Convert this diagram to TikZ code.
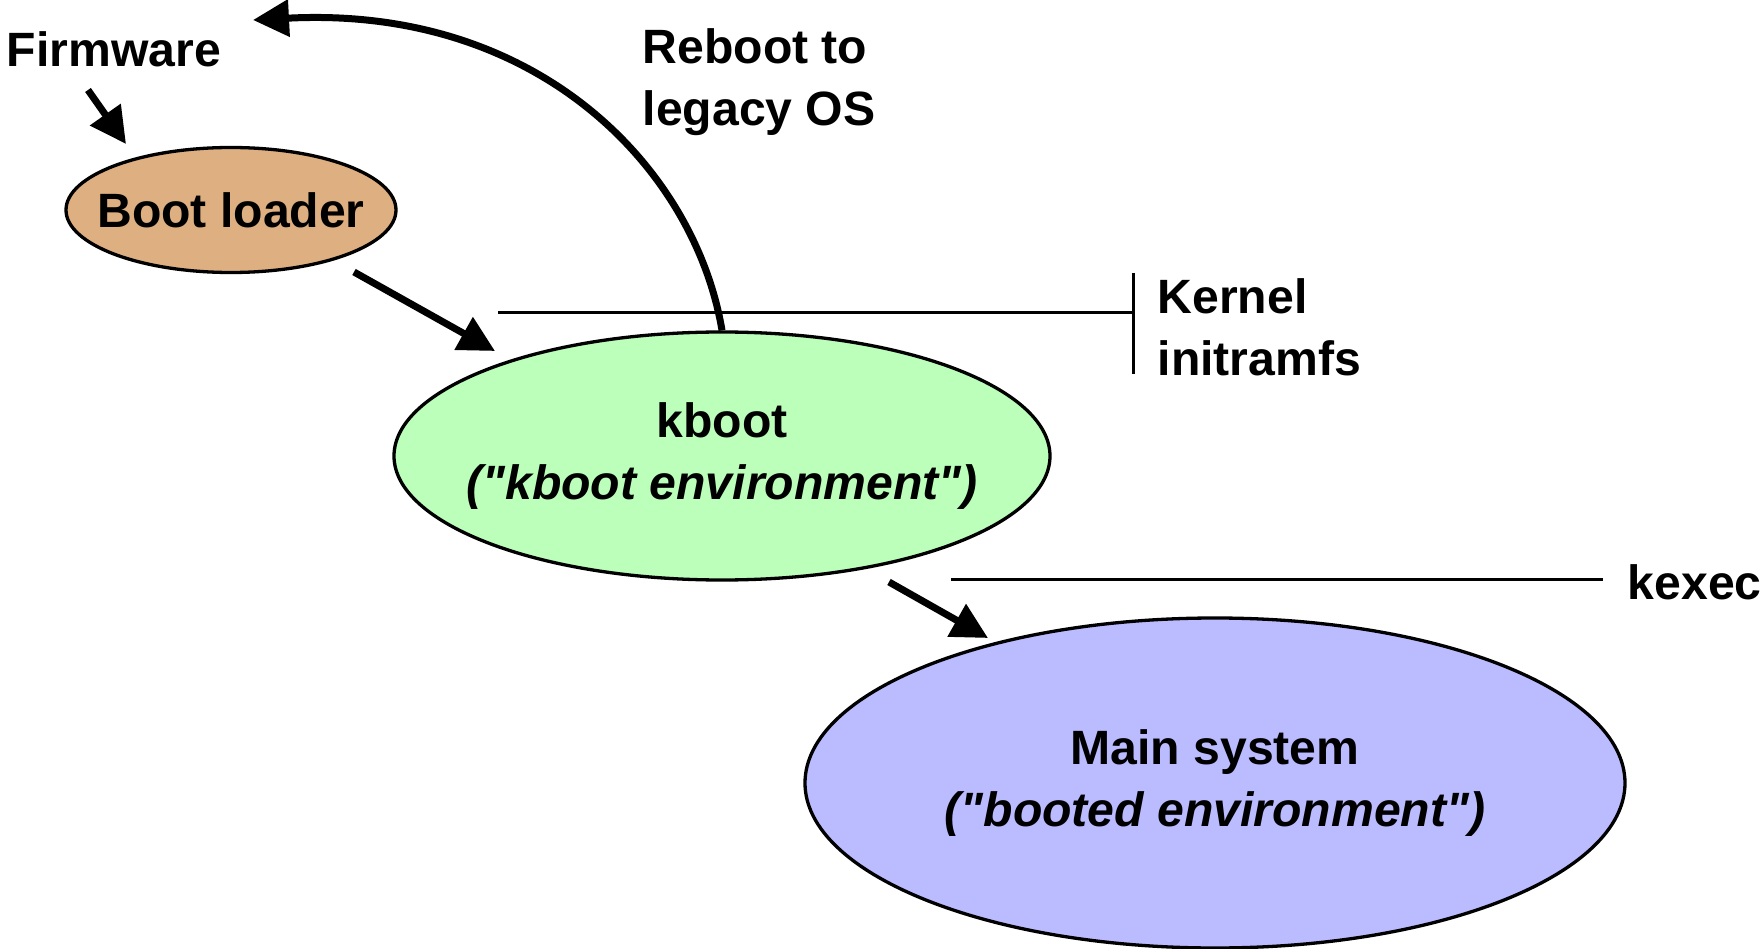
\documentclass[tikz,border=0pt]{standalone}
\usepackage{fontspec}
\setmainfont{Liberation Sans}
\usetikzlibrary{arrows.meta,shapes.geometric}
\definecolor{loaderfill}{RGB}{222,175,128}
\definecolor{kbootfill}{RGB}{187,255,187}
\definecolor{mainfill}{RGB}{187,187,255}
\tikzset{
	>={Triangle[length=3.6mm,width=3.6mm]},   % big filled heads
	stage/.style={ellipse, draw, line width=0.33mm, inner sep=0pt},
	lbl/.style={anchor=west, align=left, inner sep=0pt},
	flow/.style={->, line width=0.7mm},
	rule/.style={line width=0.3mm}
}

\begin{document}
\begin{tikzpicture}[x=0.1mm, y=-0.1mm, font=\fontsize{13.7pt}{17.6pt}\selectfont\bfseries]
	\useasboundingbox (0,0) rectangle (1764,949);
	
	% boot stages (text as centre label, so the ellipse keeps its size)
	\node[stage, fill=loaderfill, minimum width=33mm, minimum height=12.5mm,
	label={[align=center]center:Boot loader}] (loader) at (231,210) {};
	\node[stage, fill=kbootfill, minimum width=65.6mm, minimum height=24.8mm,
	label={[align=center]center:kboot\\\textit{(\textquotedbl kboot environment\textquotedbl)}}] (kboot) at (722,456) {};
	\node[stage, fill=mainfill, minimum width=82mm, minimum height=33mm,
	label={[align=center]center:Main system\\\textit{(\textquotedbl booted environment\textquotedbl)}}] (main) at (1215,783) {};
	
	% side labels
	\node[lbl] (firmware) at (6,49) {Firmware};
	\node[lbl] (reboot) at (642,82) {Reboot to\\legacy OS};
	\node[lbl] (kernel) at (1157,327) {Kernel\\initramfs};
	\node[lbl] (kexec) at (1627,582) {kexec};
	
	% ends of the arrows
	\coordinate (fwout) at (88,90);
	\coordinate (ldin) at (126,144);
	\coordinate (ldout) at (354,272);
	\coordinate (kbin) at (495,351);
	\coordinate (kbout) at (889,582);
	\coordinate (mnin) at (988,638);
	\coordinate (legacy) at (253,20);
	
	% marker lines
	\draw[rule] (498,313) -- (1133,313) (1133,273) -- (1133,374);
	\draw[rule] (951,579) -- (1603,579);
	
	% arrows
	\draw[flow] (fwout) -- (ldin);
	\draw[flow] (ldout) -- (kbin);
	\draw[flow] (kbout) -- (mnin);
	\draw[flow] (kboot.north) .. controls (695,170) and (540,5) .. (legacy);
	
\end{tikzpicture}
\end{document}
